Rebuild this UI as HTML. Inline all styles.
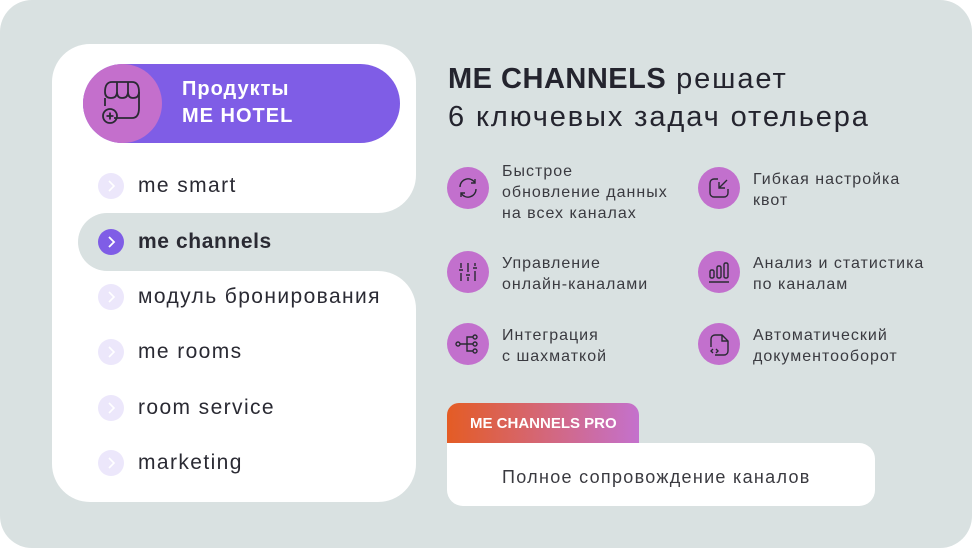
<!DOCTYPE html>
<html><head><meta charset="utf-8"><style>
*{margin:0;padding:0;box-sizing:border-box}
body{width:972px;height:548px;background:#fff;position:relative;overflow:hidden;font-family:"Liberation Sans","DejaVu Sans",sans-serif;color:#2a2a33}
.a{position:absolute}
.bg{left:0;top:0;width:972px;height:548px;background:#d9e1e1;border-radius:32px}
.w{background:#fff}
.li{position:absolute;left:138px;font-size:21px;line-height:26px;color:#2a2a33;white-space:nowrap;letter-spacing:1.4px}
.dot{position:absolute;left:98px;width:26px;height:26px;border-radius:50%;background:#ece7fb}
.dot svg{position:absolute;left:0;top:0}
.ic{position:absolute;width:42px;height:42px;border-radius:50%;background:#c270cd}
.ic svg{position:absolute;left:0;top:0}
.t{position:absolute;font-size:16px;line-height:21px;color:#3a3a40;white-space:nowrap;letter-spacing:1px}
</style></head><body>
<div class="a bg"></div>
<div class="a w" style="left:52px;top:44px;width:364px;height:169px;border-radius:38px 38px 38px 0"></div>
<div class="a w" style="left:52px;top:150px;width:80px;height:250px"></div>
<div class="a w" style="left:52px;top:271px;width:364px;height:231px;border-radius:0 38px 38px 38px"></div>
<div class="a" style="left:78px;top:213px;width:360px;height:58px;background:#d9e1e1;border-radius:29px 0 0 29px"></div>

<div class="a" style="left:83px;top:64px;width:317px;height:79px;border-radius:40px;background:#7f5de6"></div>
<div class="a" style="left:83px;top:64px;width:79px;height:79px;border-radius:50%;background:#c46fcc"></div>
<svg class="a" style="left:100px;top:78px" width="46" height="50" viewBox="0 0 46 50" fill="none" stroke="#2a2a33" stroke-width="1.8">
<path d="M5 14 Q5 4 12 4 H32 Q39 4 39 14 V30 Q39 40 32 40 H14"/>
<path d="M5 14 Q5 20 11 20 Q17 20 17 14 Q17 20 22 20 Q28 20 28 14 Q28 20 33 20 Q39 20 39 14"/>
<path d="M17 4 V14 M28 4 V14"/>
<path d="M5 20 V28"/>
<circle cx="10" cy="38" r="7"/><path d="M10 34.5V41.5M6.5 38H13.5"/>
</svg>
<div class="a" style="left:182px;top:76px;font-size:20px;font-weight:bold;color:#fff;line-height:27px;letter-spacing:1px">Продукты<br>ME HOTEL</div>

<div class="dot" style="top:173px"><svg width="26" height="26"><path d="M11 8l5 5-5 5" stroke="#fff" stroke-width="1.6" fill="none"/></svg></div>
<div class="li" style="top:173px">me smart</div>
<div class="dot" style="top:229px;background:#7f5de6"><svg width="26" height="26"><path d="M11 8l5 5-5 5" stroke="#fff" stroke-width="1.8" fill="none"/></svg></div>
<div class="li" style="top:229px;font-weight:bold;letter-spacing:0.6px">me channels</div>
<div class="dot" style="top:284px"><svg width="26" height="26"><path d="M11 8l5 5-5 5" stroke="#fff" stroke-width="1.6" fill="none"/></svg></div>
<div class="li" style="top:284px">модуль бронирования</div>
<div class="dot" style="top:339px"><svg width="26" height="26"><path d="M11 8l5 5-5 5" stroke="#fff" stroke-width="1.6" fill="none"/></svg></div>
<div class="li" style="top:339px">me rooms</div>
<div class="dot" style="top:395px"><svg width="26" height="26"><path d="M11 8l5 5-5 5" stroke="#fff" stroke-width="1.6" fill="none"/></svg></div>
<div class="li" style="top:395px">room service</div>
<div class="dot" style="top:450px"><svg width="26" height="26"><path d="M11 8l5 5-5 5" stroke="#fff" stroke-width="1.6" fill="none"/></svg></div>
<div class="li" style="top:450px">marketing</div>

<div class="a" style="left:448px;top:60px;font-size:29px;line-height:38px;color:#24242e;white-space:nowrap;letter-spacing:1.9px"><b style="letter-spacing:0.5px">ME CHANNELS</b> решает<br>6 ключевых задач отельера</div>

<div class="ic" style="left:447px;top:167px"><svg width="42" height="42" fill="none" stroke="#2a2a33" stroke-width="1.4"><path d="M13 20a8 8 0 0 1 15-4M29 22a8 8 0 0 1-15 4"/><path d="M28 12v4h-4M14 30v-4h4"/></svg></div>
<div class="t" style="left:502px;top:161px">Быстрое<br>обновление данных<br>на всех каналах</div>
<div class="ic" style="left:698px;top:167px"><svg width="42" height="42" fill="none" stroke="#2a2a33" stroke-width="1.4"><path d="M20 12h-4a4 4 0 0 0-4 4v10a4 4 0 0 0 4 4h10a4 4 0 0 0 4-4v-4"/><path d="M29 13l-8 8M21 15v6h6"/></svg></div>
<div class="t" style="left:753px;top:169px">Гибкая настройка<br>квот</div>

<div class="ic" style="left:447px;top:251px"><svg width="42" height="42" fill="none" stroke="#2a2a33" stroke-width="1.4"><path d="M14 12v5M14 22v8M21 12v9M21 26v4M28 12v3M28 20v10M12 19h4M19 24h4M26 17h4"/></svg></div>
<div class="t" style="left:502px;top:253px">Управление<br>онлайн-каналами</div>
<div class="ic" style="left:698px;top:251px"><svg width="42" height="42" fill="none" stroke="#2a2a33" stroke-width="1.4"><rect x="12" y="19" width="4" height="8" rx="1.5"/><rect x="19" y="15" width="4" height="12" rx="1.5"/><rect x="26" y="12" width="4" height="15" rx="1.5"/><path d="M11 31h20"/></svg></div>
<div class="t" style="left:753px;top:253px">Анализ и статистика<br>по каналам</div>

<div class="ic" style="left:447px;top:323px"><svg width="42" height="42" fill="none" stroke="#2a2a33" stroke-width="1.4"><circle cx="11" cy="21" r="2"/><circle cx="28" cy="14" r="2"/><circle cx="28" cy="21" r="2"/><circle cx="28" cy="28" r="2"/><path d="M13 21h13M20 21v-7h6M20 21v7h6"/></svg></div>
<div class="t" style="left:502px;top:325px">Интеграция<br>с шахматкой</div>
<div class="ic" style="left:698px;top:323px"><svg width="42" height="42" fill="none" stroke="#2a2a33" stroke-width="1.4"><path d="M13 24v-8a4 4 0 0 1 4-4h7l6 6v10a4 4 0 0 1-4 4h-9"/><path d="M24 12v6h6M15 26l-2 2 2 2M18 26l2 2-2 2"/></svg></div>
<div class="t" style="left:753px;top:325px">Автоматический<br>документооборот</div>

<div class="a" style="left:447px;top:403px;width:192px;height:48px;border-radius:12px 12px 0 0;background:linear-gradient(90deg,#e45c24,#c471cd)"></div>
<div class="a" style="left:470px;top:414px;font-size:15px;font-weight:bold;color:#fff;line-height:20px">ME CHANNELS PRO</div>
<div class="a w" style="left:447px;top:443px;width:428px;height:63px;border-radius:0 16px 16px 16px"></div>
<div class="a" style="left:502px;top:465px;font-size:18px;line-height:24px;color:#3a3a40;white-space:nowrap;letter-spacing:1.3px">Полное сопровождение каналов</div>
</body></html>
